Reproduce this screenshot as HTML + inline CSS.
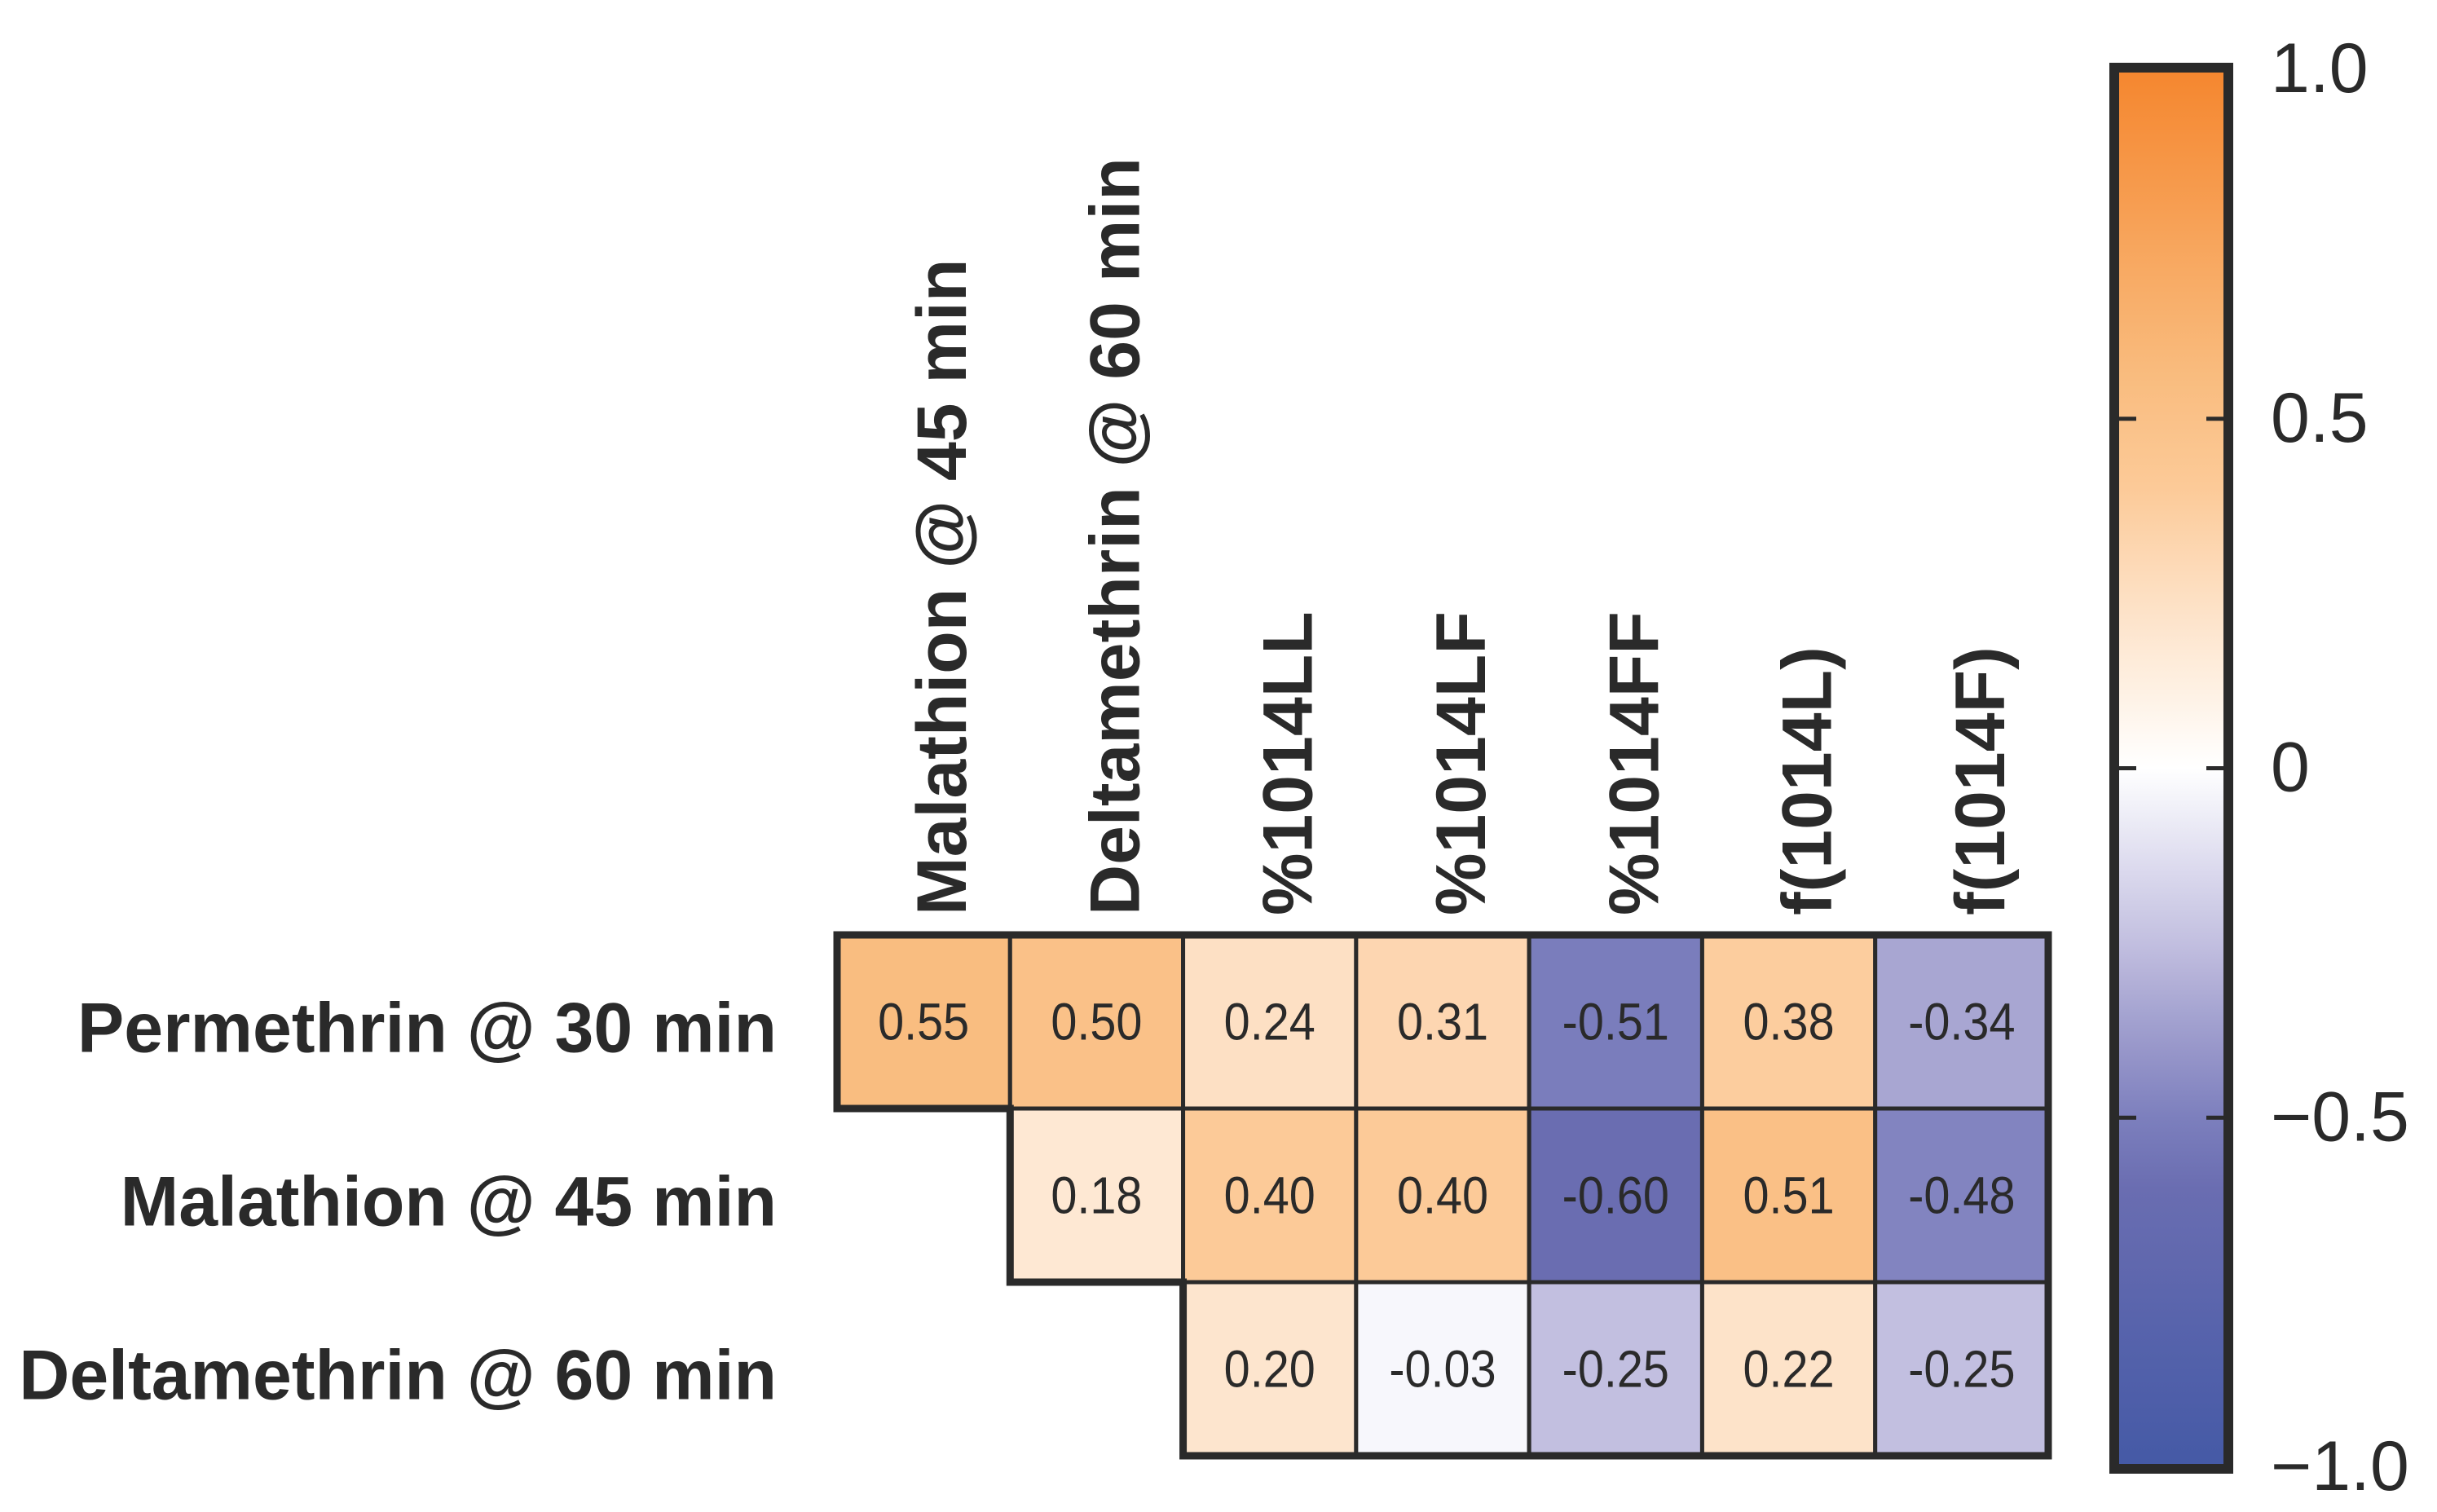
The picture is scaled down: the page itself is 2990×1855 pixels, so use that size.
<!DOCTYPE html>
<html><head><meta charset="utf-8"><style>
html,body{margin:0;padding:0;background:#fff;}
svg{display:block;font-family:"Liberation Sans",Arial,sans-serif;}
</style></head><body>
<svg id="chart" width="2990" height="1855" viewBox="0 0 2990 1855" xmlns="http://www.w3.org/2000/svg">
<defs><linearGradient id="cbgrad" x1="0" y1="0" x2="0" y2="1"></linearGradient></defs>
<g id="cells"></g>
<g id="outline"></g>
<g id="rowlabels"></g>
<g id="collabels"></g>
<g id="colorbar"></g>
</svg>
<script>
const rowLabels = ["Permethrin @ 30 min","Malathion @ 45 min","Deltamethrin @ 60 min"];
const colLabels = ["Malathion @ 45 min","Deltamethrin @ 60 min","%1014LL","%1014LF","%1014FF","f(1014L)","f(1014F)"];
const row0 = [0.55, 0.50, 0.24, 0.31, -0.51, 0.38, -0.34];
const row1 = [null, 0.18, 0.40, 0.40, -0.60, 0.51, -0.48];
const row2 = [null, null, 0.20, -0.03, -0.25, 0.22, -0.25];
const cbTicks = [1.0, 0.5, 0, -0.5, -1.0];
const cbTickLabels = ["1.0","0.5","0","\u22120.5","\u22121.0"];

const rows = [row0, row1, row2];
const NS = "http://www.w3.org/2000/svg";
const stops = [[1,"#f5862e"],[0.55,"#f9bd80"],[0.4,"#fcca98"],[0.24,"#fde0c4"],[0,"#ffffff"],[-0.03,"#f7f7fc"],[-0.25,"#c2bfe0"],[-0.34,"#a8a6d2"],[-0.5,"#7c7fbd"],[-0.6,"#6a6db1"],[-1,"#4459a6"]];
function hex(c){return [1,3,5].map(i=>parseInt(c.substr(i,2),16));}
function cmap(v){
  for(let i=0;i<stops.length-1;i++){
    const [a,ca]=stops[i],[b,cb]=stops[i+1];
    if(v<=a && v>=b){const t=(a-v)/(a-b);const A=hex(ca),B=hex(cb);
      return "rgb("+A.map((x,k)=>Math.round(x+(B[k]-x)*t)).join(",")+")";}
  }
  return v>0?stops[0][1]:stops[stops.length-1][1];
}
const gx0=1027, gx1=2513, gy0=1147, gy1=1786;
const cw=(gx1-gx0)/colLabels.length, rh=(gy1-gy0)/rowLabels.length;
const xAt=i=>gx0+i*cw, yAt=j=>gy0+j*rh;
function mk(tag,attrs,parent,text){const e=document.createElementNS(NS,tag);for(const k in attrs)e.setAttribute(k,attrs[k]);if(text!==undefined)e.textContent=text;parent.appendChild(e);return e;}
const gc=document.getElementById("cells");
rows.forEach((r,j)=>r.forEach((v,i)=>{
  if(v===null)return;
  const rect=mk("rect",{x:xAt(i),y:yAt(j),width:cw,height:rh,fill:cmap(v),stroke:"#2a2a2a","stroke-width":5},gc);
  
  
  const cx=xAt(i)+cw/2, by=yAt(j)+rh/2+22;
  const t=mk("text",{x:cx,y:by,"text-anchor":"middle","font-size":64,fill:"#2a2a2a",transform:"translate("+cx+",0) scale(0.9,1) translate("+(-cx)+",0)"},gc,v.toFixed(2));
  
  
}));
const go=document.getElementById("outline");
let d="M"+gx1+","+gy0+" L"+gx1+","+gy1;
for(let j=rows.length-1;j>=0;j--){const first=rows[j].findIndex(v=>v!==null);d+=" L"+xAt(first)+","+yAt(j+1)+" L"+xAt(first)+","+yAt(j);}
d+=" Z";
const ol=mk("path",{d:d,fill:"none",stroke:"#2a2a2a","stroke-width":9},go);


const gr=document.getElementById("rowlabels");
rowLabels.forEach((s,j)=>{const t=mk("text",{x:953,y:yAt(j)+rh/2+37,"text-anchor":"end","font-size":86,"font-weight":"bold",fill:"#2a2a2a"},gr,s);
  
  });
const gcl=document.getElementById("collabels");
colLabels.forEach((s,i)=>{const x=xAt(i)+cw/2+52,y=1123;
  const t=mk("text",{x:x,y:y,transform:"rotate(-90 "+x+" "+y+")","font-size":86,"font-weight":"bold",fill:"#2a2a2a"},gcl,s);
  
  });
const grad=document.getElementById("cbgrad");
for(let k=0;k<=40;k++){const v=1-k/20;mk("stop",{offset:(k/40),"stop-color":cmap(v)},grad);}
const cb=document.getElementById("colorbar");
const cbx0=2594, cbx1=2734, cy1=85, cym1=1800;
const cy=v=>cy1+(1-v)/2*(cym1-cy1);
const bar=mk("rect",{x:cbx0,y:cy(1)-2,width:cbx1-cbx0,height:cy(-1)-cy(1)+4,fill:"url(#cbgrad)",stroke:"#2a2a2a","stroke-width":12},cb);


cbTicks.forEach((v,k)=>{
  if(Math.abs(v)<1){
    mk("line",{x1:cbx0,x2:cbx0+27,y1:cy(v),y2:cy(v),stroke:"#2a2a2a","stroke-width":5},cb);
    mk("line",{x1:cbx1-27,x2:cbx1,y1:cy(v),y2:cy(v),stroke:"#2a2a2a","stroke-width":5},cb);
  }
  const t=mk("text",{x:2786,y:cy(v)+28,"font-size":86,fill:"#2a2a2a"},cb,cbTickLabels[k]);
  
  
});
</script>
</body></html>
